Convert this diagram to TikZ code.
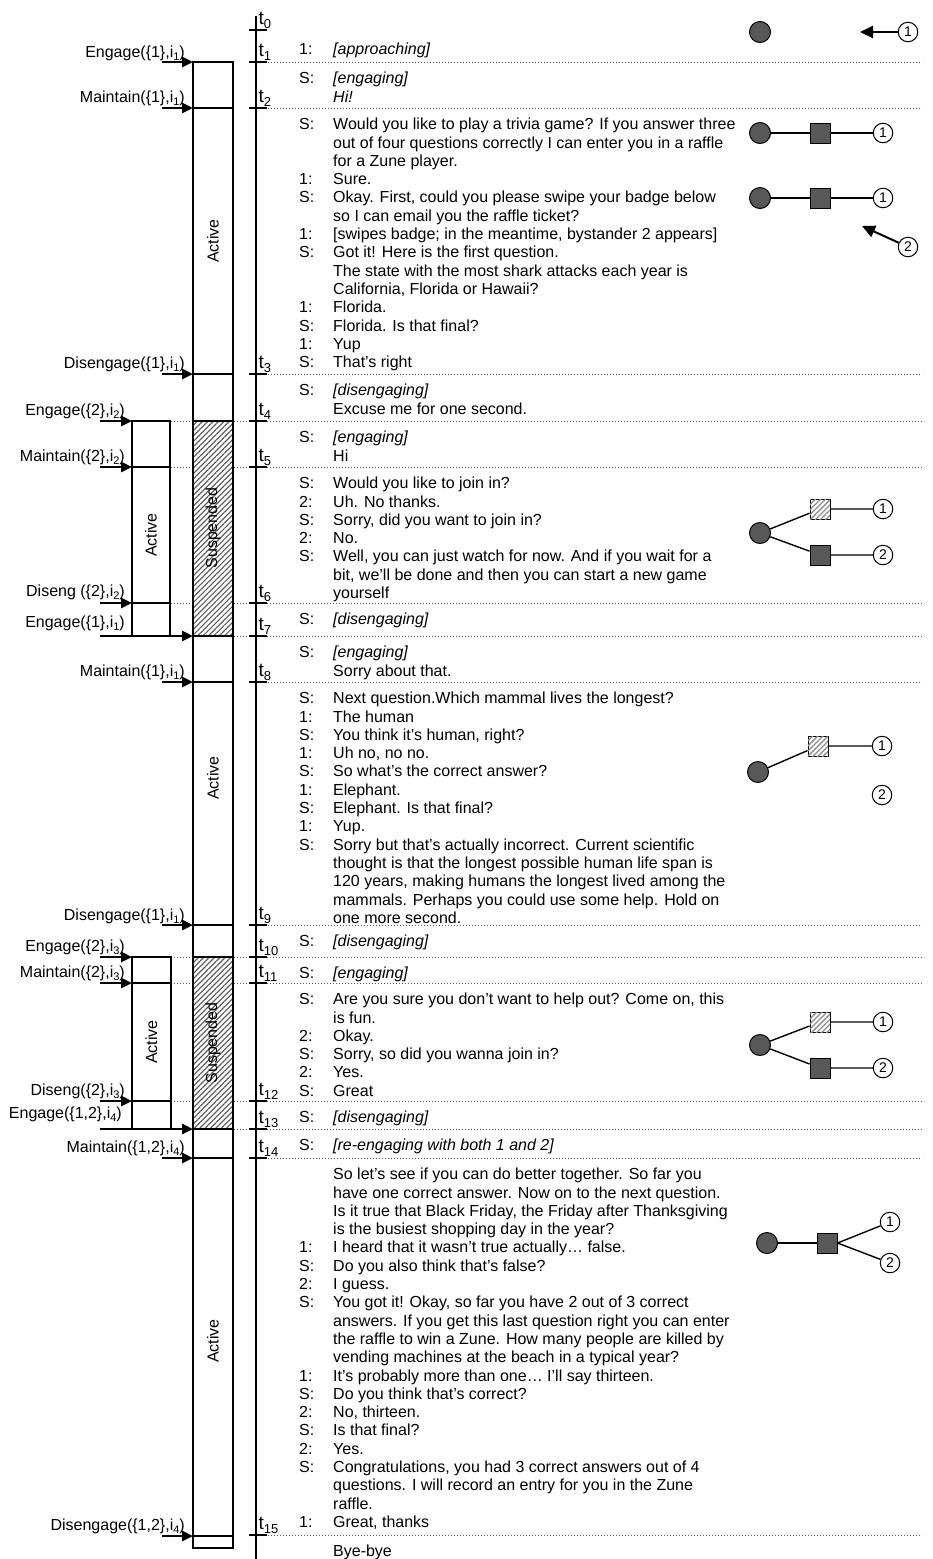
\documentclass[tikz,border=0pt]{standalone}
\usepackage{fontspec}
\setmainfont{Liberation Sans}
\usetikzlibrary{arrows.meta,patterns.meta}
\definecolor{dkg}{RGB}{88,88,88}
\newcommand\sbs[1]{\raisebox{-3pt}{\fontsize{11}{11}\selectfont #1}}
\newcommand\tsb[1]{\raisebox{-4pt}{\fontsize{13}{13}\selectfont #1}}
\newcommand\fs{\fontsize{16}{18.3}\selectfont}
\newcommand\seg[3]{\node[segbox] (#1) at (299,#2+8.7) {\begin{tabular}{@{}p{34pt}@{}l@{}}#3\end{tabular}};}
\tikzset{
  tline/.style={line width=2pt},
  tickl/.style={line width=1.6pt},
  tlab/.style={anchor=base west, inner sep=0pt, font=\fontsize{19}{19}\selectfont},
  dotl/.style={black!65, line width=1pt, dash pattern=on 1pt off 2pt},
  col/.style={line width=1.5pt},
  hatch/.style={col, preaction={fill=white}, pattern={Lines[angle=45,distance=3.8pt,line width=1.2pt]}, pattern color=black!62},
  act/.style={line width=2.7pt, -{Triangle[length=11pt,width=10pt]}},
  lab/.style={anchor=base east, inner sep=0pt, font=\fs},
  segbox/.style={anchor=north west, inner sep=0pt, font=\fs},
  rot/.style={rotate=90, inner sep=0pt, font=\fs},
  gc/.style={circle, draw=black, line width=1pt, fill=dkg, minimum size=21pt, inner sep=0pt},
  sq/.style={rectangle, draw=black, line width=1pt, fill=dkg, minimum size=20pt, inner sep=0pt},
  hsq/.style={rectangle, draw=black, line width=1pt, fill=white, minimum size=20pt, inner sep=0pt, postaction={pattern={Lines[angle=45,distance=3.6pt,line width=1.3pt]}, pattern color=black!45}},
  pc/.style={circle, draw=black, line width=1pt, fill=white, minimum size=19.5pt, inner sep=0pt, font=\fontsize{14}{14}\selectfont},
  gl/.style={line width=1.4pt},
  garr/.style={line width=2pt, -{Triangle[length=13pt,width=12pt]}}
}
\begin{document}
\begin{tikzpicture}[x=1pt,y=-1pt]
\useasboundingbox (0,0) rectangle (933,1559);

% dotted separators
\foreach \y in {62,108,374,682,925,1158,1535} { \draw[dotl] (250,\y) -- (922,\y); }
\foreach \y in {421,467,603,636,957,983,1101,1129} { \draw[dotl] (150,\y) -- (922,\y); }

% timeline
\coordinate (tlTop) at (256,16);
\coordinate (tlBot) at (256,1559);
\draw[tline] (tlTop) -- (tlBot);
\foreach \y/\n in {30/0,62/1,108/2,374/3,421/4,467/5,603/6,636/7,682/8,925/9,957/10,983/11,1101/12,1129/13,1158/14,1535/15} {
  \draw[tickl] (249,\y) -- (267,\y);
  \node[tlab] (t\n) at (258.5,\y-6) {t\tsb{\n}};
}

% main column
\draw[col] (193,62) rectangle (233,1548);
\foreach \y in {108,374,682,925,1158,1536} { \draw[col] (193,\y) -- (233,\y); }
\draw[hatch] (193,421) rectangle (233,636);
\draw[hatch] (193,957) rectangle (233,1129);
\node[rot] (act1) at (213,241) {Active};
\node[rot] (sus1) at (213,528) {Suspended};
\node[rot] (act2) at (213,778) {Active};
\node[rot] (sus2) at (213,1043) {Suspended};
\node[rot] (act3) at (213,1341) {Active};

% secondary columns
\draw[col] (132,421) rectangle (170,636);
\draw[col] (132,467) -- (170,467);
\draw[col] (132,603) -- (170,603);
\draw[col] (132,957) rectangle (171,1129);
\draw[col] (132,983) -- (171,983);
\draw[col] (132,1101) -- (171,1101);
\node[rot] (act4) at (151,535) {Active};
\node[rot] (act5) at (151.5,1042) {Active};

% event arrows
\foreach \n/\y/\xs/\xe in {E1/62/162/193, M1/108/162/193, D1/374/162/193, E2/421/100/132, M2/467/100/132, D2/603/100/132, E3/636/100/193, M3/682/162/193, D3/925/162/193, E4/957/100/132, M4/983/100/132, D4/1101/100/132, E5/1129/100/193, M5/1158/162/193, D5/1536/162/193} {
  \coordinate (\n s) at (\xs,\y);
  \coordinate (\n e) at (\xe,\y);
  \draw[act] (\n s) -- (\n e);
}

% event labels
\node[lab] (lE1) at (185,57) {Engage(\{1\},i\sbs{1})};
\node[lab] (lM1) at (185,102) {Maintain(\{1\},i\sbs{1})};
\node[lab] (lD1) at (185,368) {Disengage(\{1\},i\sbs{1})};
\node[lab] (lE2) at (125,415) {Engage(\{2\},i\sbs{2})};
\node[lab] (lM2) at (125,461) {Maintain(\{2\},i\sbs{2})};
\node[lab] (lD2) at (125,596) {Diseng (\{2\},i\sbs{2})};
\node[lab] (lE3) at (125,627) {Engage(\{1\},i\sbs{1})};
\node[lab] (lM3) at (185,676) {Maintain(\{1\},i\sbs{1})};
\node[lab] (lD3) at (185,920) {Disengage(\{1\},i\sbs{1})};
\node[lab] (lE4) at (125,951) {Engage(\{2\},i\sbs{3})};
\node[lab] (lM4) at (125,977) {Maintain(\{2\},i\sbs{3})};
\node[lab] (lD4) at (125,1095) {Diseng(\{2\},i\sbs{3})};
\node[lab] (lE5) at (122,1118) {Engage(\{1,2\},i\sbs{4})};
\node[lab] (lM5) at (185,1152) {Maintain(\{1,2\},i\sbs{4})};
\node[lab] (lD5) at (185,1530) {Disengage(\{1,2\},i\sbs{4})};

% dialogue
\seg{s0}{33}{1: & \textit{[approaching]}}
\seg{s1}{62}{S: & \textit{[engaging]}\\ & \textit{Hi!}}
\seg{s2}{108}{S: & Would you like to play a trivia game? If you answer three\\
 & out of four questions correctly I can enter you in a raffle\\
 & for a Zune player.\\
1: & Sure.\\
S: & Okay. First, could you please swipe your badge below\\
 & so I can email you the raffle ticket?\\
1: & [swipes badge; in the meantime, bystander 2 appears]\\
S: & Got it! Here is the first question.\\
 & The state with the most shark attacks each year is\\
 & California, Florida or Hawaii?\\
1: & Florida.\\
S: & Florida. Is that final?\\
1: & Yup\\
S: & That’s right}
\seg{s3}{374}{S: & \textit{[disengaging]}\\ & Excuse me for one second.}
\seg{s4}{421}{S: & \textit{[engaging]}\\ & Hi}
\seg{s5}{467}{S: & Would you like to join in?\\
2: & Uh. No thanks.\\
S: & Sorry, did you want to join in?\\
2: & No.\\
S: & Well, you can just watch for now. And if you wait for a\\
 & bit, we’ll be done and then you can start a new game\\
 & yourself}
\seg{s6}{603}{S: & \textit{[disengaging]}}
\seg{s7}{636}{S: & \textit{[engaging]}\\ & Sorry about that.}
\seg{s8}{682}{S: & Next question.Which mammal lives the longest?\\
1: & The human\\
S: & You think it’s human, right?\\
1: & Uh no, no no.\\
S: & So what’s the correct answer?\\
1: & Elephant.\\
S: & Elephant. Is that final?\\
1: & Yup.\\
S: & Sorry but that’s actually incorrect. Current scientific\\
 & thought is that the longest possible human life span is\\
 & 120 years, making humans the longest lived among the\\
 & mammals. Perhaps you could use some help. Hold on\\
 & one more second.}
\seg{s9}{925}{S: & \textit{[disengaging]}}
\seg{s10}{957}{S: & \textit{[engaging]}}
\seg{s11}{983}{S: & Are you sure you don’t want to help out? Come on, this\\
 & is fun.\\
2: & Okay.\\
S: & Sorry, so did you wanna join in?\\
2: & Yes.\\
S: & Great}
\seg{s12}{1101}{S: & \textit{[disengaging]}}
\seg{s13}{1129}{S: & \textit{[re-engaging with both 1 and 2]}}
\seg{s14}{1158}{ & So let’s see if you can do better together. So far you\\
 & have one correct answer. Now on to the next question.\\
 & Is it true that Black Friday, the Friday after Thanksgiving\\
 & is the busiest shopping day in the year?\\
1: & I heard that it wasn’t true actually… false.\\
S: & Do you also think that’s false?\\
2: & I guess.\\
S: & You got it! Okay, so far you have 2 out of 3 correct\\
 & answers. If you get this last question right you can enter\\
 & the raffle to win a Zune. How many people are killed by\\
 & vending machines at the beach in a typical year?\\
1: & It’s probably more than one… I’ll say thirteen.\\
S: & Do you think that’s correct?\\
2: & No, thirteen.\\
S: & Is that final?\\
2: & Yes.\\
S: & Congratulations, you had 3 correct answers out of 4\\
 & questions. I will record an entry for you in the Zune\\
 & raffle.\\
1: & Great, thanks}
\seg{s15}{1535}{ & Bye-bye}

% glyphs row 1
\node[gc] (g1c) at (760,32) {};
\node[pc] (g1p) at (908,32) {1};
\coordinate (g1t) at (860,32);
\draw[garr] (g1p) -- (g1t);
% row 2
\node[gc] (g2c) at (760,133) {};
\node[sq] (g2s) at (820,133) {};
\node[pc] (g2p) at (883,133) {1};
\draw[gl] (g2c) -- (g2s) -- (g2p);
% row 3
\node[gc] (g3c) at (760,198) {};
\node[sq] (g3s) at (820,198) {};
\node[pc] (g3p) at (883,198) {1};
\draw[gl] (g3c) -- (g3s) -- (g3p);
\node[pc] (g3q) at (908,247) {2};
\coordinate (g3t) at (862,226);
\draw[garr] (g3q) -- (g3t);
% row 4
\node[gc] (g4c) at (760,533) {};
\node[hsq] (g4h) at (820,509) {};
\node[pc] (g4p) at (883,509) {1};
\node[sq] (g4s) at (820,555) {};
\node[pc] (g4q) at (883,555) {2};
\draw[gl] (g4c) -- (g4h) -- (g4p);
\draw[gl] (g4c) -- (g4s) -- (g4q);
% row 5
\node[gc] (g5c) at (758,772) {};
\node[hsq] (g5h) at (818,746) {};
\node[pc] (g5p) at (882,746) {1};
\node[pc] (g5q) at (882,795) {2};
\draw[gl] (g5c) -- (g5h) -- (g5p);
% row 6
\node[gc] (g6c) at (760,1045) {};
\node[hsq] (g6h) at (820,1022) {};
\node[pc] (g6p) at (883,1022) {1};
\node[sq] (g6s) at (820,1068) {};
\node[pc] (g6q) at (883,1068) {2};
\draw[gl] (g6c) -- (g6h) -- (g6p);
\draw[gl] (g6c) -- (g6s) -- (g6q);
% row 7
\node[gc] (g7c) at (767,1243) {};
\node[sq] (g7s) at (827,1243) {};
\node[pc] (g7p) at (890,1222) {1};
\node[pc] (g7q) at (890,1263) {2};
\draw[gl] (g7c) -- (g7s);
\draw[gl] (g7s.east) -- (g7p);
\draw[gl] (g7s.east) -- (g7q);
\end{tikzpicture}
\end{document}
